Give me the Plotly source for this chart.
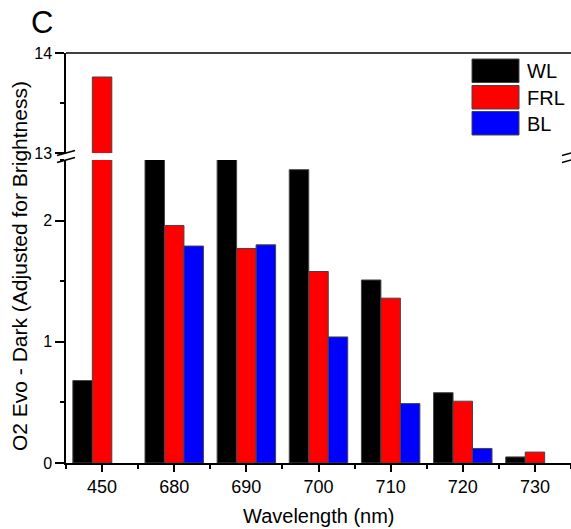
import plotly.graph_objects as go

# Wavelength categories and O2 evolution values per light treatment
wavelengths = ["450", "680", "690", "700", "710", "720", "730"]
wl_values = [0.68, 2.70, 2.70, 2.42, 1.51, 0.58, 0.05]
frl_values = [13.76, 1.96, 1.77, 1.58, 1.36, 0.51, 0.09]
bl_values = [None, 1.79, 1.80, 1.04, 0.49, 0.12, None]

series_names = ["WL", "FRL", "BL"]
series_values = [wl_values, frl_values, bl_values]
series_colors = ["#000000", "#ff0000", "#0000ff"]

W, H = 571, 529
ML, MR, MT, MB = 66, 0, 53, 66
PW, PH = W - ML - MR, H - MT - MB
FONT = "Liberation Sans, Arial, sans-serif"


def px(x):
    return (x - ML) / PW


def py(y):
    return (H - MB - y) / PH


# broken axis: lower panel 0..2.5, upper panel 13..14
low_dom = [0, py(160)]
up_dom = [py(153), 1]

xpos = list(range(len(wavelengths)))

fig = go.Figure()
for name, vals, col in zip(series_names, series_values, series_colors):
    for yax in ("y", "y2"):
        fig.add_trace(go.Bar(
            x=xpos, y=vals, name=name, yaxis=yax, xaxis="x",
            marker=dict(color=col, line=dict(color="#444444", width=1)),
            showlegend=False,
        ))

axis_common = dict(
    showline=True, linecolor="black", linewidth=1.5,
    ticks="outside", ticklen=9, tickwidth=1.5, tickcolor="black",
    showgrid=False, zeroline=False,
    tickfont=dict(family=FONT, size=16, color="black"),
)

fig.update_layout(
    width=W, height=H,
    margin=dict(l=ML, r=MR, t=MT, b=MB),
    paper_bgcolor="white", plot_bgcolor="white",
    barmode="group", bargap=0.19, bargroupgap=0,
    xaxis=dict(
        range=[-0.5, len(wavelengths) - 0.5],
        tickmode="array", tickvals=xpos, ticktext=wavelengths,
        anchor="y",
        minor=dict(tickmode="linear", tick0=-0.5, dtick=1, ticks="outside",
                   ticklen=4, tickwidth=1.5, tickcolor="black"),
        **{**axis_common, "ticklen": 7,
           "tickfont": dict(family=FONT, size=18, color="black")},
    ),
    yaxis=dict(
        domain=low_dom, range=[0, 2.5], anchor="x",
        tickmode="array", tickvals=[0, 1, 2],
        minor=dict(tickmode="linear", tick0=0, dtick=0.5, ticks="outside",
                   ticklen=4, tickwidth=1.5, tickcolor="black"),
        **axis_common,
    ),
    yaxis2=dict(
        domain=up_dom, range=[13, 14], anchor="x",
        tickmode="array", tickvals=[13, 14],
        minor=dict(tickmode="linear", tick0=13, dtick=0.5, ticks="outside",
                   ticklen=4, tickwidth=1.5, tickcolor="black"),
        **axis_common,
    ),
)

shapes = []
# frame line along the top of the plot
shapes.append(dict(type="line", xref="paper", yref="paper", x0=0, x1=1, y0=1, y1=1,
                   line=dict(color="black", width=1.5)))
# axis-break marks on both sides
for xc in (ML, W):
    for yc in (153, 160):
        shapes.append(dict(type="line", xref="paper", yref="paper",
                           x0=px(xc - 9), y0=py(yc + 2.5), x1=px(xc + 9), y1=py(yc - 2.5),
                           line=dict(color="black", width=1.5)))
# legend swatches and labels
leg_tops = [59, 85.5, 111.5]
annotations = []
for name, col, top in zip(series_names, series_colors, leg_tops):
    shapes.append(dict(type="rect", xref="paper", yref="paper",
                       x0=px(472), x1=px(519), y0=py(top + 23.5), y1=py(top),
                       fillcolor=col, line=dict(color="#444444", width=1)))
    annotations.append(dict(text=name, xref="paper", yref="paper",
                            x=px(525), y=py(top + 12), xanchor="left", yanchor="middle",
                            showarrow=False, font=dict(family=FONT, size=20, color="black")))

annotations += [
    dict(text="C", xref="paper", yref="paper", x=px(42), y=py(23),
         xanchor="center", yanchor="middle", showarrow=False,
         font=dict(family=FONT, size=31, color="black")),
    dict(text="Wavelength (nm)", xref="paper", yref="paper", x=px(319), y=py(516),
         xanchor="center", yanchor="middle", showarrow=False,
         font=dict(family=FONT, size=20, color="black")),
    dict(text="O2 Evo - Dark (Adjusted for Brightness)", xref="paper", yref="paper",
         x=px(19), y=py(266), xanchor="center", yanchor="middle", textangle=-90,
         showarrow=False, font=dict(family=FONT, size=21, color="black")),
]

fig.update_layout(shapes=shapes, annotations=annotations)
fig.write_html("out.html")
